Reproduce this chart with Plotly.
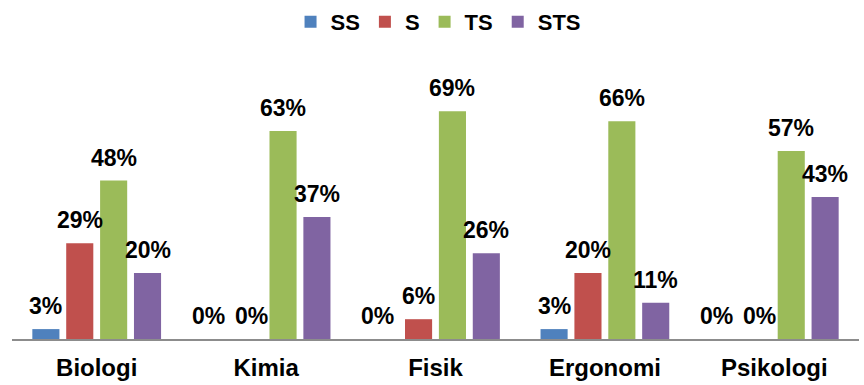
import plotly.graph_objects as go

categories = ["Biologi", "Kimia", "Fisik", "Ergonomi", "Psikologi"]
series_names = ["SS", "S", "TS", "STS"]
ss_values = [3, 0, 0, 3, 0]
s_values = [29, 0, 6, 20, 0]
ts_values = [48, 63, 69, 66, 57]
sts_values = [20, 37, 26, 11, 43]
colors = ["#4F81BD", "#C0504D", "#9BBB59", "#8064A2"]

all_values = [ss_values, s_values, ts_values, sts_values]

BARGAP = 0.2
BARGROUPGAP = 0.2
FONT = "Liberation Sans, Arial, sans-serif"
# zero-value labels are nudged apart so adjacent ones don't collide
ZERO_NUDGE = [-7, 2, 0, 0]

fig = go.Figure()
for name, vals, col in zip(series_names, all_values, colors):
    fig.add_trace(go.Bar(
        name=name, x=categories, y=vals,
        marker=dict(color=col, line=dict(width=0)),
    ))

# data labels placed above each bar of the group
n = len(series_names)
slot = (1 - BARGAP) / n
for j, vals in enumerate(all_values):
    off = (j - (n - 1) / 2) * slot
    for i, v in enumerate(vals):
        fig.add_annotation(
            x=i + off, y=v, xref="x", yref="y",
            text=f"{v}%", showarrow=False,
            yanchor="middle", yshift=23,
            xshift=ZERO_NUDGE[j] if v == 0 else 0,
            font=dict(family=FONT, size=23, color="#000000", weight="bold"),
        )

fig.update_layout(
    width=864, height=385,
    margin=dict(l=12, r=5, t=75, b=46),
    paper_bgcolor="white", plot_bgcolor="white",
    barmode="group", bargap=BARGAP, bargroupgap=BARGROUPGAP,
    showlegend=True,
    legend=dict(
        orientation="h", xref="container", yref="container",
        x=0.507, xanchor="center", y=0.943, yanchor="middle",
        font=dict(family=FONT, size=22, color="#000000", weight="bold"),
        itemwidth=30, tracegroupgap=0, itemclick=False,
    ),
    xaxis=dict(
        showline=True, linecolor="#8C8C8C", linewidth=2,
        showgrid=False, zeroline=False, automargin=False,
        ticks="outside", ticklen=6, tickcolor="rgba(0,0,0,0)",
        tickfont=dict(family=FONT, size=24, color="#000000", weight="bold"),
    ),
    yaxis=dict(
        range=[0, 80], visible=False, showgrid=False, zeroline=False,
    ),
)

fig.write_html("out.html")
